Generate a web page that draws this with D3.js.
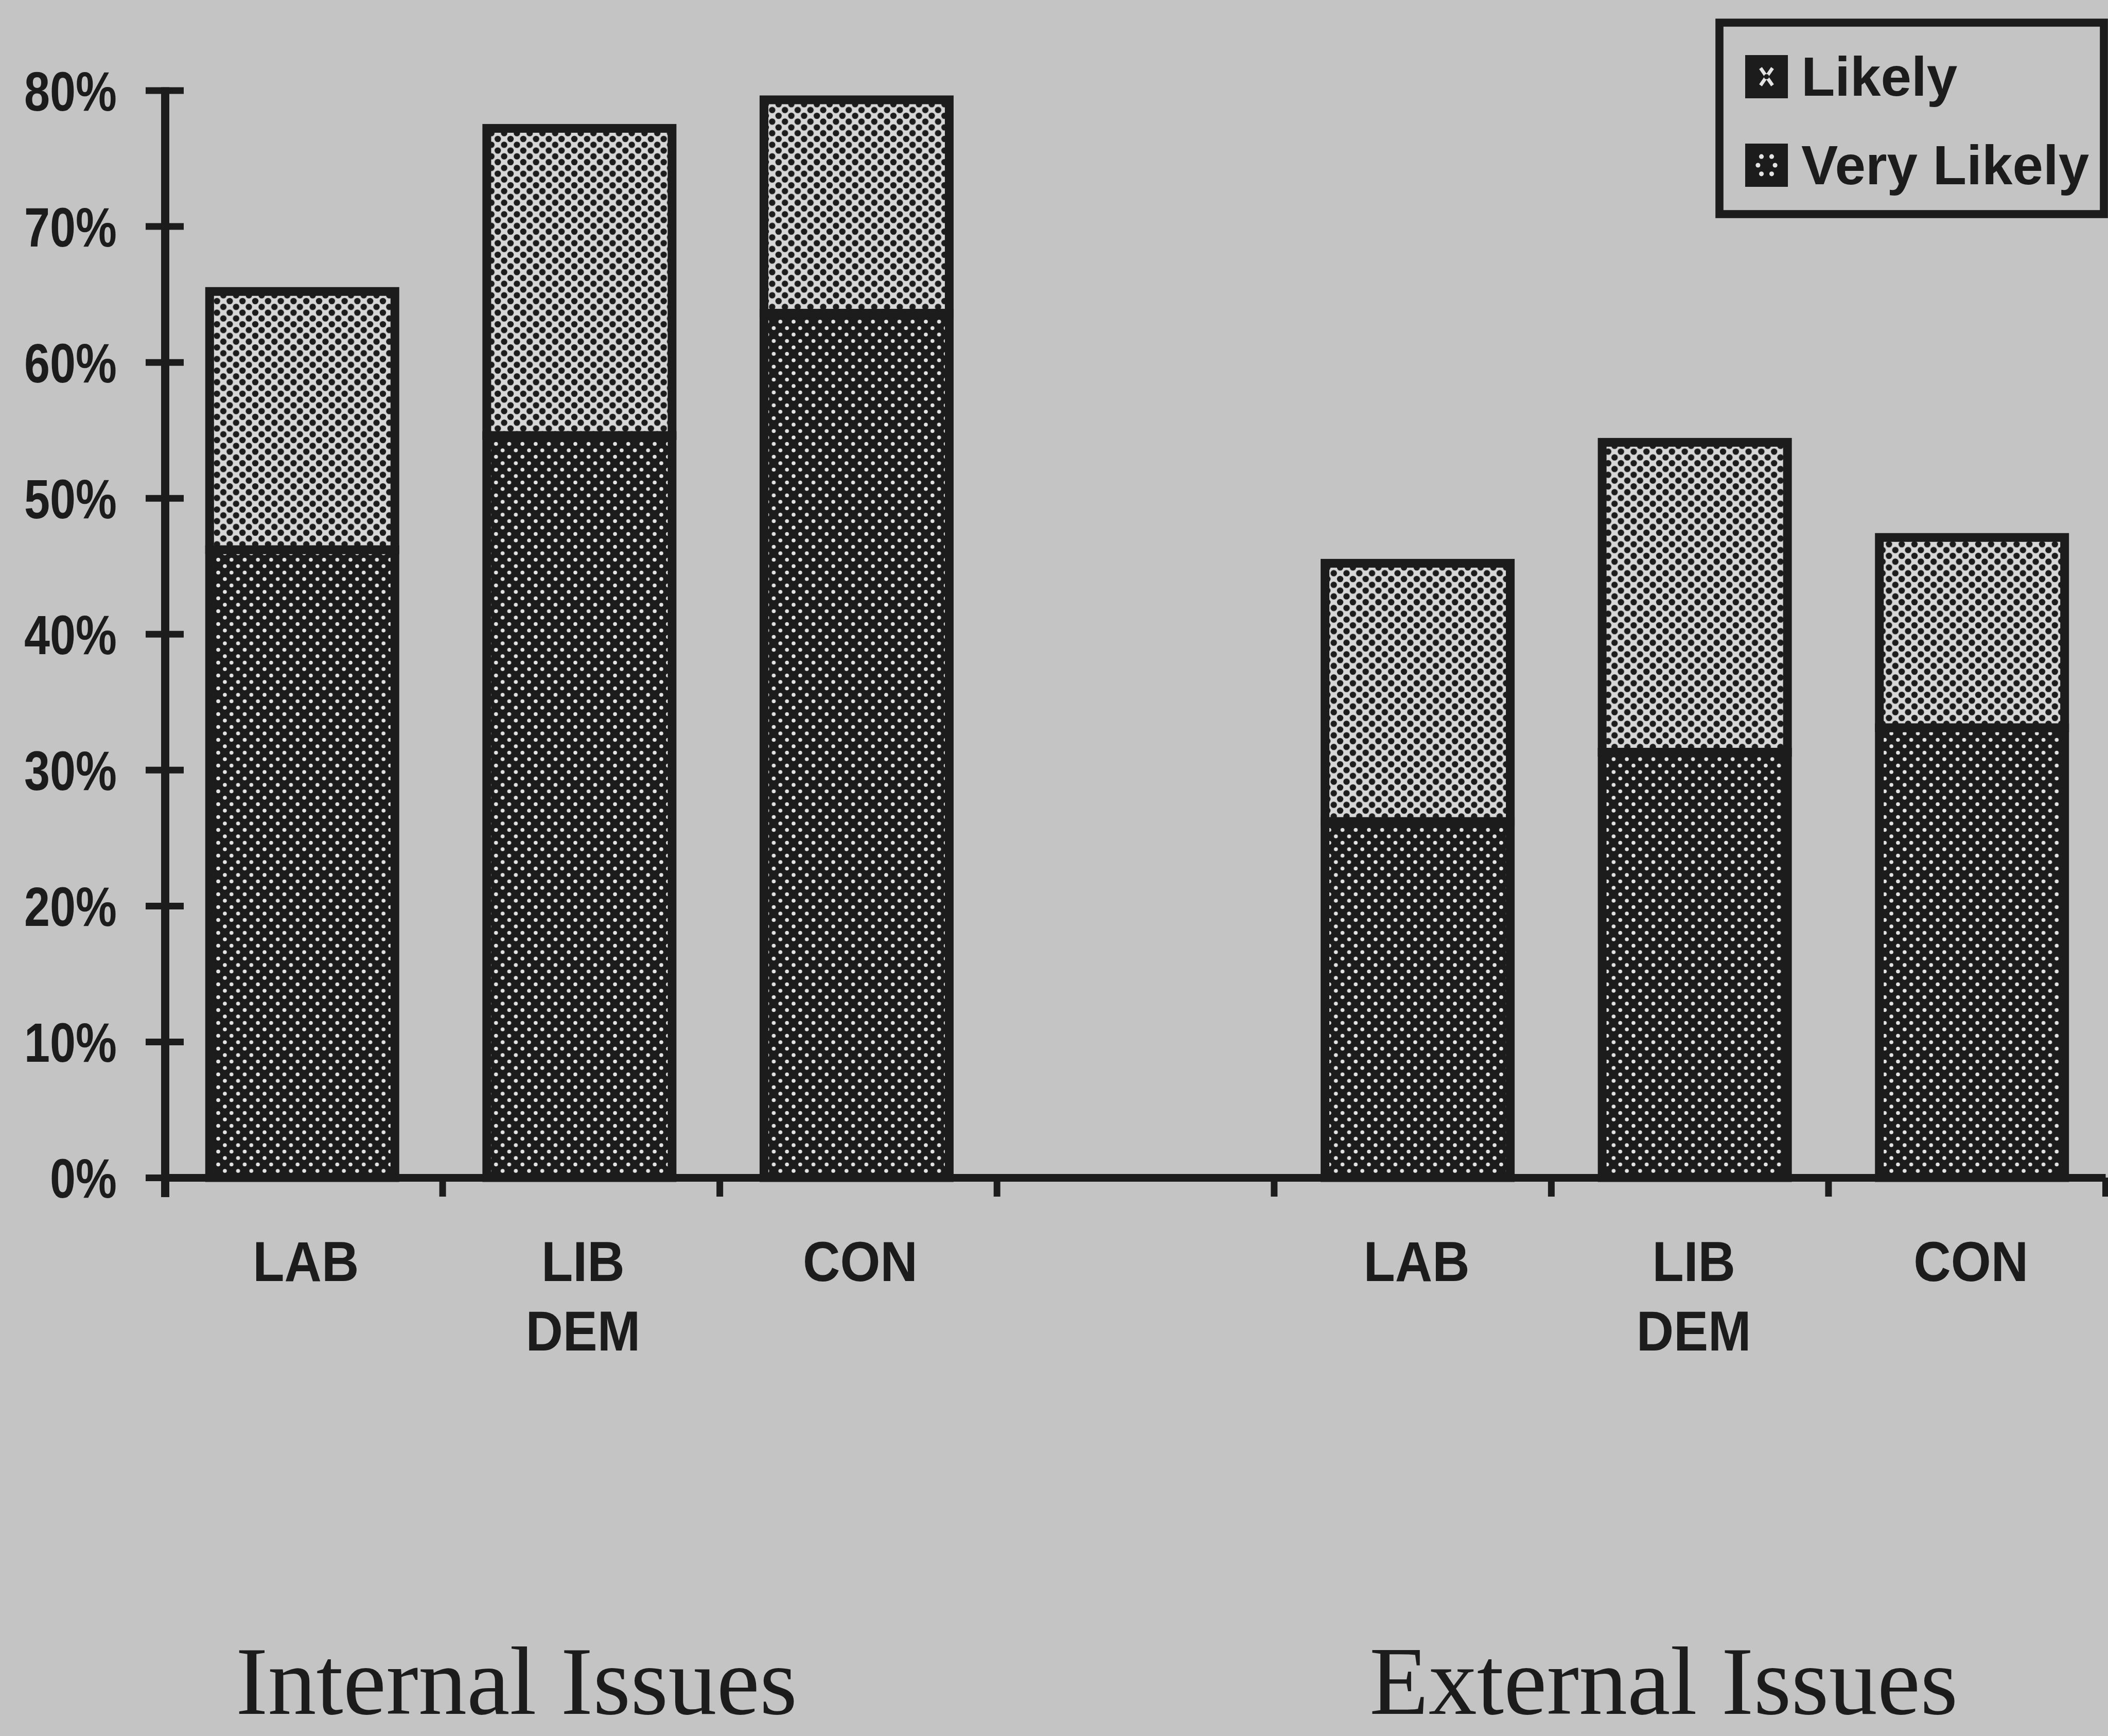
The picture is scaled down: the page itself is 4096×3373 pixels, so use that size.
<!DOCTYPE html>
<html>
<head>
<meta charset="utf-8">
<script src="https://cdn.jsdelivr.net/npm/d3@7"></script>
<style>
  html, body { margin: 0; padding: 0; background: #c4c4c4; overflow: hidden; }
  svg { display: block; }
</style>
</head>
<body>
<div id="chart"></div>
<script>
// values (percent)
const parties = ["LAB", "LIB DEM", "CON"];
const groupTitles = ["Internal Issues", "External Issues"];
const seriesNames = ["Likely", "Very Likely"];
const veryLikelyInternal = [46.2, 54.6, 63.6];
const likelyInternal = [19.0, 22.6, 15.7];
const veryLikelyExternal = [26.2, 31.3, 33.1];
const likelyExternal = [19.0, 22.8, 14.0];
const yTicks = [0, 10, 20, 30, 40, 50, 60, 70, 80];
const slots = ["int-LAB", "int-LIB DEM", "int-CON", "gap", "ext-LAB", "ext-LIB DEM", "ext-CON"];

const W = 4096, H = 3373;
const ink = "#1c1c1c";

let rows = [];
parties.forEach((p, i) => {
    rows.push({slot: "int-" + p, party: p, veryLikely: veryLikelyInternal[i], likely: likelyInternal[i]});
});
parties.forEach((p, i) => {
    rows.push({slot: "ext-" + p, party: p, veryLikely: veryLikelyExternal[i], likely: likelyExternal[i]});
});

const svg = d3.select("#chart").append("svg")
    .attr("width", W)
    .attr("height", H)
    .style("background", "#c4c4c4");

// fill patterns (scanned halftone look)
const defs = svg.append("defs");

const pL = defs.append("pattern").attr("id", "pat-likely")
    .attr("patternUnits", "userSpaceOnUse").attr("width", 24.8).attr("height", 22.5);
pL.append("rect").attr("width", 24.8).attr("height", 22.5).attr("fill", "#d6d6d6");
[[0, 0], [24.8, 0], [0, 22.5], [24.8, 22.5], [12.4, 11.25]].forEach(c => {
    pL.append("circle").attr("cx", c[0]).attr("cy", c[1]).attr("r", 6.2).attr("fill", ink);
});

const pV = defs.append("pattern").attr("id", "pat-very")
    .attr("patternUnits", "userSpaceOnUse").attr("width", 25.7).attr("height", 25);
pV.append("rect").attr("width", 25.7).attr("height", 25).attr("fill", ink);
[[0, 0], [25.7, 0], [0, 25], [25.7, 25], [12.85, 12.5]].forEach(c => {
    pV.append("circle").attr("cx", c[0]).attr("cy", c[1]).attr("r", 3.8).attr("fill", "#e4e4e4");
});

// swatch patterns for the legend, one tile per swatch
const sL = defs.append("pattern").attr("id", "sw-likely")
    .attr("patternUnits", "objectBoundingBox").attr("patternContentUnits", "objectBoundingBox")
    .attr("width", 1).attr("height", 1);
sL.append("rect").attr("width", 1).attr("height", 1).attr("fill", ink);
sL.append("path").attr("d", "M0.36,0.3 L0.64,0.7 M0.64,0.3 L0.36,0.7")
    .attr("stroke", "#e4e4e4").attr("stroke-width", 0.08).attr("fill", "none");
sL.append("circle").attr("cx", 0.5).attr("cy", 0.5).attr("r", 0.06).attr("fill", ink);

const sV = defs.append("pattern").attr("id", "sw-very")
    .attr("patternUnits", "objectBoundingBox").attr("patternContentUnits", "objectBoundingBox")
    .attr("width", 1).attr("height", 1);
sV.append("rect").attr("width", 1).attr("height", 1).attr("fill", ink);
[[0.38, 0.3], [0.62, 0.3], [0.3, 0.5], [0.7, 0.5], [0.38, 0.7], [0.62, 0.7]].forEach(c => {
    sV.append("circle").attr("cx", c[0]).attr("cy", c[1]).attr("r", 0.055).attr("fill", "#e4e4e4");
});

// scales
const y = d3.scaleLinear().domain([0, 80]).range([2288, 175.5]);
const x = d3.scaleBand().domain(slots).range([321, 4091]).padding(0);
const xEdge = d3.scaleLinear().domain([0, slots.length]).range([321, 4091]);

const barFrac = 0.70;
const barStroke = 17;
const barW = x.bandwidth() * barFrac - barStroke;
const shift = s => s.startsWith("int") ? -3 : 10;

// stacked bars
const stack = d3.stack().keys(["veryLikely", "likely"]);
const series = stack(rows);
const patFor = {veryLikely: "url(#pat-very)", likely: "url(#pat-likely)"};

svg.append("g").selectAll("g")
    .data(series)
    .join("g")
    .attr("fill", d => patFor[d.key])
    .selectAll("rect")
    .data(d => d)
    .join("rect")
    .attr("x", d => x(d.data.slot) + (x.bandwidth() - barW) / 2 + shift(d.data.slot))
    .attr("width", barW)
    .attr("y", d => y(d[1]))
    .attr("height", d => y(d[0]) - y(d[1]))
    .attr("stroke", ink)
    .attr("stroke-width", barStroke);

// y axis
const yAxis = d3.axisLeft(y).tickValues(yTicks).tickFormat(d => d + "%").tickSizeOuter(0);
const gy = svg.append("g").attr("transform", "translate(321,0)").call(yAxis);
gy.select(".domain").remove();
gy.selectAll(".tick line")
    .attr("x1", -38).attr("x2", 36)
    .attr("stroke", ink).attr("stroke-width", 13);
gy.selectAll(".tick text")
    .attr("x", null).attr("dy", null)
    .attr("text-anchor", "end")
    .attr("transform", "translate(-94,38.5) scale(0.84,1)")
    .attr("fill", ink)
    .style("font-family", "'Liberation Sans', Arial, sans-serif")
    .style("font-weight", "bold")
    .style("font-size", "107px");
gy.append("line")
    .attr("x1", 0).attr("x2", 0)
    .attr("y1", y(80) - 6).attr("y2", 2326)
    .attr("stroke", ink).attr("stroke-width", 16);

// x axis line with slot boundary ticks
const xAxisEdges = d3.axisBottom(xEdge).tickValues(d3.range(1, slots.length + 1))
    .tickFormat("").tickSize(37).tickSizeOuter(0);
const gx = svg.append("g").attr("transform", "translate(0,2288)").call(xAxisEdges);
gx.select(".domain").attr("stroke", ink).attr("stroke-width", 15);
gx.selectAll(".tick line").attr("stroke", ink).attr("stroke-width", 13);

// category labels
const catAxis = d3.axisBottom(x).tickSize(0).tickFormat(d => d === "gap" ? "" : d.slice(4));
const gc = svg.append("g").attr("transform", "translate(0,2288)").call(catAxis);
gc.select(".domain").remove();
gc.selectAll(".tick text").each(function(d) {
    const t = d3.select(this);
    const words = d === "gap" ? [] : d.slice(4).split(" ");
    const dx = d.startsWith("ext") ? 8 : 4;
    t.text(null).attr("y", null).attr("dy", null)
        .attr("text-anchor", "middle")
        .attr("transform", `translate(${dx},201) scale(0.92,1)`)
        .attr("fill", ink)
        .style("font-family", "'Liberation Sans', Arial, sans-serif")
        .style("font-weight", "bold")
        .style("font-size", "109px");
    words.forEach((w, i) => {
        t.append("tspan").attr("x", 0).attr("y", i * 135).text(w);
    });
});

// group titles
const titleX = [458, 2661];
svg.append("g").selectAll("text")
    .data(groupTitles)
    .join("text")
    .attr("x", (d, i) => titleX[i])
    .attr("y", 3330)
    .attr("fill", ink)
    .style("font-family", "'Liberation Serif', 'Times New Roman', serif")
    .style("font-size", "188px")
    .text(d => d);

// legend
const legend = svg.append("g");
legend.append("rect")
    .attr("x", 3341).attr("y", 44)
    .attr("width", 747).attr("height", 372)
    .attr("fill", "none")
    .attr("stroke", ink).attr("stroke-width", 15.6);

const swatchFill = {"Likely": "url(#sw-likely)", "Very Likely": "url(#sw-very)"};
const ly = d3.scalePoint().domain(seriesNames).range([186, 358]);
const items = legend.selectAll("g.item")
    .data(seriesNames)
    .join("g")
    .attr("class", "item");
items.append("rect")
    .attr("x", 3391)
    .attr("y", d => ly(d) - 79)
    .attr("width", 83).attr("height", 84)
    .attr("fill", d => swatchFill[d]);
items.append("text")
    .attr("x", 3500)
    .attr("y", d => ly(d))
    .attr("fill", ink)
    .style("font-family", "'Liberation Sans', Arial, sans-serif")
    .style("font-weight", "bold")
    .style("font-size", "107px")
    .text(d => d);
</script>
</body>
</html>
